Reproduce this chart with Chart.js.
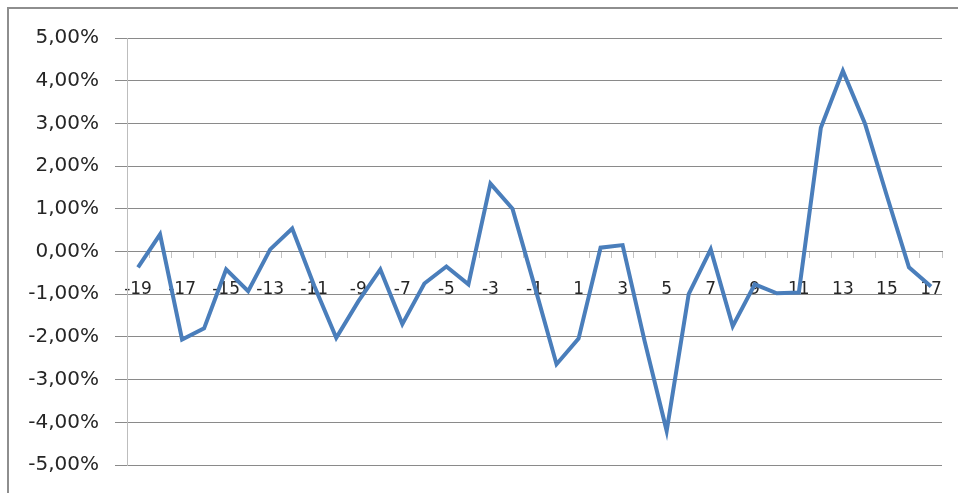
<!DOCTYPE html>
<html>
<head>
<meta charset="utf-8">
<script src="https://cdn.jsdelivr.net/npm/chart.js@4/dist/chart.umd.min.js"></script>
<style>
  html, body { margin: 0; padding: 0; background: #fff; overflow: hidden; }
  #wrap { position: absolute; left: 0; top: 0; width: 958px; height: 493px; }
  #frame { position: absolute; left: 7px; top: 7px; width: 1000px; height: 1000px; border: 2px solid #8e8e8e; box-sizing: border-box; }
</style>
</head>
<body>
<div id="frame"></div>
<div id="wrap"><canvas id="chart"></canvas></div>
<script>
const days = [];
for (let d = -19; d <= 17; d++) days.push(d);

// daily change, in percent
const change = [
  -0.37, 0.40, -2.06, -1.80, -0.42, -0.93, 0.05, 0.54, -0.80, -2.02,
  -1.17, -0.42, -1.70, -0.75, -0.35, -0.77, 1.59, 1.00, -0.80, -2.64,
  -2.04, 0.09, 0.15, -2.10, -4.20, -1.00, 0.05, -1.75, -0.77, -0.98,
  -0.96, 2.90, 4.23, 3.00, 1.30, -0.37, -0.82
];

const pctLabel = (v) => v.toFixed(2).replace('.', ',') + '%';

const ctx = document.getElementById('chart');
new Chart(ctx, {
  type: 'line',
  data: {
    labels: days,
    datasets: [
      {
        data: change,
        borderColor: '#4A7EBB',
        borderWidth: 4,
        pointRadius: 0,
        tension: 0,
        fill: false,
      },
    ],
  },
  options: {
    responsive: true,
    maintainAspectRatio: false,
    animation: false,
    layout: {
      padding: { left: 20, right: 16, top: 38, bottom: 27 },
    },
    plugins: {
      legend: { display: false },
      tooltip: { enabled: false },
    },
    scales: {
      x: {
        position: { y: 0 },
        offset: true,
        afterFit: (scale) => {
          // labels sit inside the plot, no extra side room needed
          scale.paddingLeft = 0;
          scale.paddingRight = 0;
        },
        grid: {
          offset: true,
          drawOnChartArea: false,
          drawTicks: true,
          tickLength: 6,
          color: '#c4c4c4',
        },
        border: { display: true, color: '#8a8a8a' },
        ticks: {
          autoSkip: false,
          maxRotation: 0,
          padding: 22,
          color: '#262626',
          font: { family: 'DejaVu Sans', size: 17 },
          callback: function (value, index) {
            return index % 2 === 0 ? this.getLabelForValue(value) : '';
          },
        },
      },
      y: {
        min: -5,
        max: 5,
        afterFit: (scale) => {
          scale.width = 107;
        },
        grid: {
          color: '#8a8a8a',
          drawTicks: true,
          tickLength: 12,
        },
        border: { display: true, color: '#bdbdbd' },
        ticks: {
          stepSize: 1,
          padding: 16,
          color: '#262626',
          font: { family: 'DejaVu Sans', size: 20 },
          callback: (v) => pctLabel(v),
        },
      },
    },
  },
});
</script>
</body>
</html>
